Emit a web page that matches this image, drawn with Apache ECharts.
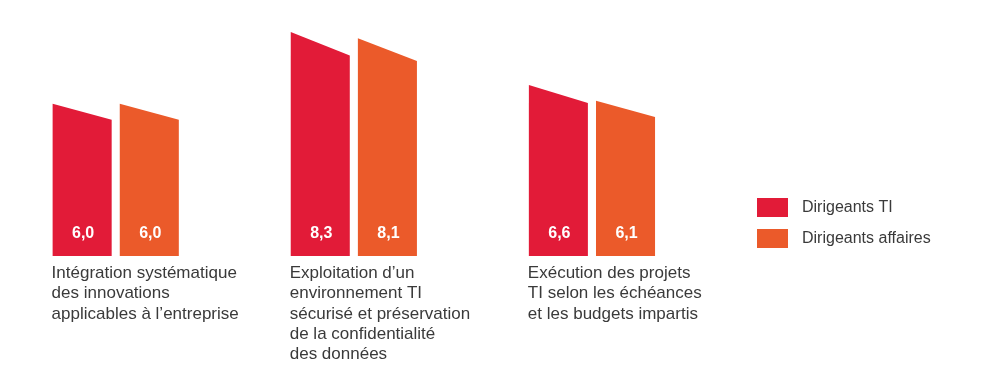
<!DOCTYPE html>
<html>
<head>
<meta charset="utf-8">
<script src="https://cdn.jsdelivr.net/npm/echarts@6/dist/echarts.min.js"></script>
<style>
html,body{margin:0;padding:0;background:#fff;}
#c{width:1000px;height:381px;}
</style>
</head>
<body>
<div id="c"></div>
<script>
const categories = [
  "Intégration systématique\ndes innovations\napplicables à l’entreprise",
  "Exploitation d’un\nenvironnement TI\nsécurisé et préservation\nde la confidentialité\ndes données",
  "Exécution des projets\nTI selon les échéances\net les budgets impartis"
];
const seriesNames = ["Dirigeants TI", "Dirigeants affaires"];
const itValues = [6.0, 8.3, 6.6];
const businessValues = [6.0, 8.1, 6.1];
const colors = ["#E21B38", "#EB5A2A"];

const FONT = '"Liberation Sans", Arial, sans-serif';
const Y_MIN = 1.13;

function fmt(v) { return v.toFixed(1).replace('.', ','); }

function makeBarRenderer(side, color) {
  return function (params, api) {
    const idx = api.value(0);
    const v = api.value(1);
    const band = api.size([1, 0])[0];
    const top = api.coord([idx, v]);
    const base = api.coord([idx, Y_MIN]);
    const w = band * 0.248;
    const cx = top[0] + side * band * 0.141;
    const x0 = cx - w / 2, x1 = cx + w / 2;
    const yR = top[1] + 0.105 * (base[1] - top[1]);
    return {
      type: 'group',
      children: [
        {
          type: 'polygon',
          shape: { points: [[x0, top[1]], [x1, yR], [x1, base[1]], [x0, base[1]]] },
          style: { fill: color }
        },
        {
          type: 'text',
          style: {
            text: fmt(v), x: cx + 1, y: base[1] - 22,
            fill: '#ffffff', font: 'bold 16px ' + FONT,
            textAlign: 'center', textVerticalAlign: 'middle'
          }
        }
      ]
    };
  };
}

function labelRenderer(params, api) {
  const idx = api.value(0);
  const band = api.size([1, 0])[0];
  const base = api.coord([idx, Y_MIN]);
  const x = base[0] - band * 0.141 - band * 0.124 - 1;
  return {
    type: 'text',
    style: {
      text: categories[idx], x: x, y: base[1] + 7.5,
      fill: '#3a3a3a', font: '17px ' + FONT, lineHeight: 20.2,
      textAlign: 'left', textVerticalAlign: 'top'
    }
  };
}

const chart = echarts.init(document.getElementById('c'), null, { renderer: 'canvas' });
chart.setOption({
  animation: false,
  backgroundColor: '#ffffff',
  grid: { left: 0, width: 711, top: 10, bottom: 125 },
  xAxis: { type: 'value', min: -0.486, max: 2.5, show: false },
  yAxis: { type: 'value', min: Y_MIN, max: 9, show: false },
  legend: {
    orient: 'vertical', left: 757, top: 198, padding: 0,
    itemWidth: 31, itemHeight: 19, itemGap: 12,
    icon: 'rect',
    textStyle: { fontSize: 16, fontFamily: FONT, color: '#3a3a3a', padding: [0, 0, 0, 9] },
    data: [
      { name: seriesNames[0], itemStyle: { color: colors[0] } },
      { name: seriesNames[1], itemStyle: { color: colors[1] } }
    ]
  },
  series: [
    {
      name: seriesNames[0], type: 'custom', itemStyle: { color: colors[0] },
      renderItem: makeBarRenderer(-1, colors[0]),
      data: itValues.map((v, i) => [i, v])
    },
    {
      name: seriesNames[1], type: 'custom', itemStyle: { color: colors[1] },
      renderItem: makeBarRenderer(1, colors[1]),
      data: businessValues.map((v, i) => [i, v])
    },
    {
      name: 'labels', type: 'custom', silent: true,
      renderItem: labelRenderer,
      data: categories.map((c, i) => [i, Y_MIN])
    }
  ]
});
</script>
</body>
</html>
